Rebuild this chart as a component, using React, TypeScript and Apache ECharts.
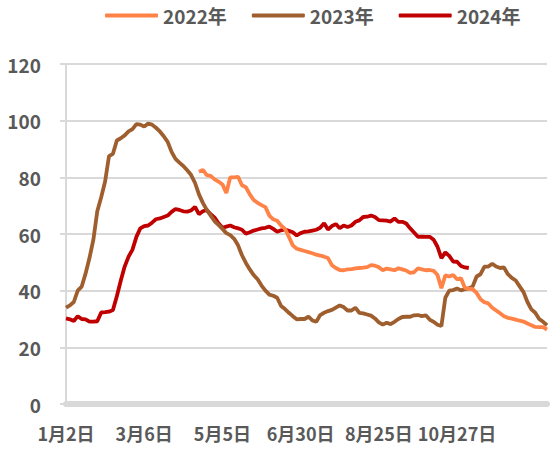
import React, { useEffect, useRef } from "react";
import * as echarts from "echarts";

const seriesNames = ["2022年", "2023年", "2024年"];
const tickLabels = ["1月2日", "3月6日", "5月5日", "6月30日", "8月25日", "10月27日"];
const tickIndex = [0, 20, 40, 60, 80, 100];
const pointCount = 124;

const v2022: (number | null)[] = [
  null, null, null, null, null, null, null, null, null, null,
  null, null, null, null, null, null, null, null, null, null,
  null, null, null, null, null, null, null, null, null, null,
  null, null, null, null,
  82, 82.6, 80.8, 80.5, 79.3, 78.5, 77.5, 74.5, 80, 80,
  80.2, 77.2, 76.5, 74, 72, 71, 70.2, 69.5, 66.5, 65.2,
  64.7, 63, 61.8, 59, 56, 54.8, 54.4, 54, 53.6, 53.2,
  52.7, 52.4, 52, 51.5, 49, 48, 47.3, 47.2, 47.5, 47.6,
  47.9, 48, 48.1, 48.3, 49, 48.8, 48.3, 47.2, 47.8, 47.5,
  47.2, 47.9, 47.5, 47.1, 46.3, 46.5, 47.9, 47.5, 47.2, 47.3,
  47, 45.5, 40.9, 45.4, 45, 45.5, 44, 44.4, 41, 40.7,
  40.5, 39.2, 37, 35.9, 35.5, 34, 33, 32, 31, 30.4,
  30.1, 29.8, 29.4, 29.1, 28.4, 27.8, 27.2, 27.1, 27.1, 26.3,
];

const v2023: (number | null)[] = [
  34, 34.8, 36, 40, 41.4, 46, 51.5, 58, 68, 73,
  78.5, 87.5, 88.3, 93, 93.8, 94.8, 96.2, 97, 98.8, 98.6,
  97.9, 99, 98.6, 97.5, 96.2, 94.5, 92.5, 89, 86.5, 85.2,
  84, 82.5, 80.8, 78, 74, 71, 68.5, 66.5, 64.5, 63.2,
  61.8, 60.3, 59.6, 58.3, 56, 52.5, 49.8, 47.5, 45.5, 44,
  41.8, 40, 38.6, 38.2, 37.5, 34.6, 33.5, 32.2, 31, 29.9,
  30, 30, 30.8, 29.5, 29, 31.4, 32.2, 32.8, 33.2, 34,
  34.8, 34.2, 33, 33, 34, 32.2, 32, 31.6, 31.2, 30.2,
  28.8, 28, 28.7, 28.2, 29, 30, 30.7, 30.8, 30.8, 31.3,
  31.4, 31, 31.3, 29.8, 29, 28, 27.5, 37.5, 40, 40.2,
  40.8, 40.1, 40.5, 40.8, 41.5, 45, 45.8, 48.5, 48.5, 49.5,
  48.5, 48, 48.2, 45.8, 44.5, 43.6, 41.5, 39.5, 36, 33.4,
  32.2, 30, 29, 27.8,
];

const v2024: (number | null)[] = [
  30.2, 29.9, 29.3, 31, 30, 29.9, 29.1, 29.1, 29.2, 32.3,
  32.4, 32.6, 33.2, 38, 43.5, 48.5, 52, 54.5, 59, 62,
  62.8, 63, 64, 65.2, 65.5, 66, 66.5, 67.8, 68.8, 68.5,
  68, 67.9, 68.3, 69.6, 67, 68, 68.5, 67, 65.8, 63.8,
  62.2, 62.6, 63, 62.4, 62, 61.5, 60.1, 60.6, 61.2, 61.6,
  62, 62.2, 62.6, 61.8, 60.8, 61.3, 61.6, 61.1, 60.6, 59.5,
  60.3, 60.8, 60.9, 61.2, 61.5, 62.2, 63.8, 61.6, 62.8, 63.5,
  62, 63, 62.5, 63, 64.3, 64.8, 66, 66.1, 66.5, 66,
  64.9, 64.8, 64.7, 64.4, 65.5, 64.3, 64.3, 63.7, 62, 60.5,
  59, 59.1, 59, 59, 58, 55.5, 51.5, 53.5, 52.3, 50.3,
  50.2, 48.7, 48.2, 48,
];

const colors = ["#FF8247", "#9E5E2E", "#C00000"];

const categories = Array.from({ length: pointCount }, (_, i) => {
  const k = tickIndex.indexOf(i);
  return k >= 0 ? tickLabels[k] : `#${i}`;
});

const FONT = "'Noto Sans CJK SC', 'Microsoft YaHei', sans-serif";

export default function App() {
  const ref = useRef<HTMLDivElement>(null);
  useEffect(() => {
    if (!ref.current) return;
    const chart = echarts.init(ref.current, undefined, { renderer: "svg" });
    const data = [v2022, v2023, v2024];
    chart.setOption({
      animation: false,
      color: colors,
      legend: {
        left: 100,
        top: 1,
        itemWidth: 53,
        itemHeight: 4,
        itemGap: 25,
        icon: "roundRect",
        data: seriesNames,
        textStyle: { fontFamily: FONT, fontWeight: "bold", fontSize: 19, color: "#595959" },
      },
      grid: { left: 66, right: 3, top: 64, bottom: 47, containLabel: false },
      xAxis: {
        type: "category",
        boundaryGap: false,
        data: categories,
        offset: 3,
        axisLine: { show: true, lineStyle: { color: "#D9D9D9", width: 6 } },
        axisTick: { show: false },
        splitLine: { show: false },
        axisLabel: {
          interval: (index: number) => tickIndex.includes(index),
          formatter: (v: string) => (tickLabels.includes(v) ? v : ""),
          margin: 17,
          fontFamily: FONT,
          fontWeight: "bold",
          fontSize: 18,
          color: "#595959",
        },
      },
      yAxis: {
        type: "value",
        min: 0,
        max: 120,
        interval: 20,
        axisLine: { show: true, lineStyle: { color: "#D9D9D9", width: 2 } },
        axisTick: { show: true, length: 6, lineStyle: { color: "#D9D9D9", width: 2 } },
        splitLine: { show: true, lineStyle: { color: "#D9D9D9", width: 2 } },
        axisLabel: {
          margin: 25,
          fontFamily: FONT,
          fontWeight: "bold",
          fontSize: 19,
          color: "#595959",
        },
      },
      series: seriesNames.map((name, i) => ({
        name,
        type: "line",
        data: data[i],
        showSymbol: false,
        symbol: "none",
        connectNulls: false,
        lineStyle: { width: 3.8, color: colors[i] },
        itemStyle: { color: colors[i] },
        z: 3 - i,
      })),
    });
    return () => chart.dispose();
  }, []);
  return (
    <div
      ref={ref}
      style={{ position: "fixed", left: 0, top: 0, width: 550, height: 451, background: "#fff" }}
    />
  );
}
